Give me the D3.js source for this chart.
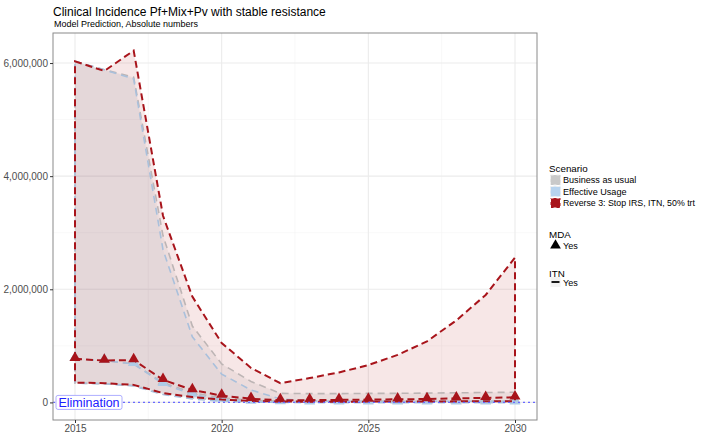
<!DOCTYPE html>
<html>
<head>
<meta charset="utf-8">
<script src="https://cdn.jsdelivr.net/npm/d3@7"></script>
<style>
  body { margin: 0; background: #fff; }
  svg { font-family: "Liberation Sans", Arial, Helvetica, sans-serif; }
</style>
</head>
<body>
<div id="chart"></div>
<script>
const WIDTH = 701;
const HEIGHT = 441;

// data, millions of cases per year
const years = d3.range(2015, 2031);
const bauUpper = [6.03, 5.88, 5.75, 2.95, 1.35, 0.68, 0.37, 0.16, 0.155, 0.155, 0.16, 0.16, 0.165, 0.17, 0.175, 0.18];
const bauMedian = [0.77, 0.74, 0.68, 0.35, 0.17, 0.08, 0.04, 0.02, 0.02, 0.02, 0.02, 0.02, 0.02, 0.02, 0.02, 0.02];
const bauLower = [0.34, 0.33, 0.30, 0.15, 0.08, 0.04, 0.02, 0.01, 0.01, 0.01, 0.01, 0.01, 0.01, 0.01, 0.01, 0.01];
const effUpper = [6.03, 5.88, 5.72, 2.70, 1.16, 0.50, 0.22, 0.06, 0.03, 0.02, 0.02, 0.02, 0.02, 0.02, 0.02, 0.02];
const effMedian = [0.77, 0.74, 0.68, 0.33, 0.14, 0.05, 0.015, 0.005, 0, 0, 0, 0, 0, 0, 0, 0];
const effLower = [0.34, 0.33, 0.29, 0.14, 0.06, 0.02, 0.005, 0, 0, 0, 0, 0, 0, 0, 0, 0];
const revUpper = [6.03, 5.86, 6.22, 3.30, 1.87, 1.05, 0.61, 0.34, 0.43, 0.53, 0.66, 0.84, 1.08, 1.45, 1.90, 2.56];
const revMedian = [0.77, 0.74, 0.75, 0.40, 0.22, 0.12, 0.065, 0.04, 0.04, 0.045, 0.05, 0.055, 0.06, 0.07, 0.08, 0.09];
const revLower = [0.35, 0.34, 0.31, 0.165, 0.095, 0.05, 0.025, 0.015, 0.013, 0.013, 0.014, 0.015, 0.016, 0.018, 0.02, 0.022];

const scenarios = [
  {name: "Business as usual", color: "#BDB5B5", fill: "#8C8C8C", fillOp: 0.10, point: "#B9B9B9", upper: bauUpper, median: bauMedian, lower: bauLower, key: "#C9C9C9"},
  {name: "Effective Usage", color: "#A9C0DC", fill: "#9CB8DA", fillOp: 0.10, point: "#AFCBE6", upper: effUpper, median: effMedian, lower: effLower, key: "#B7D3EE"},
  {name: "Reverse 3: Stop IRS, ITN, 50% trt", color: "#A8141B", fill: "#B22222", fillOp: 0.11, point: "#A8141B", upper: revUpper, median: revMedian, lower: revLower, key: "#A8141B"}
];

const yTicks = [0, 2, 4, 6];
const xTicks = [2015, 2020, 2025, 2030];

const margin = {top: 33, left: 53, right: 164, bottom: 21};
const pw = WIDTH - margin.left - margin.right;
const ph = HEIGHT - margin.top - margin.bottom;

const svg = d3.select("#chart").append("svg")
  .attr("width", WIDTH)
  .attr("height", HEIGHT);

// titles
svg.append("text").attr("x", 53).attr("y", 16)
  .attr("font-size", 12).attr("fill", "#000")
  .text("Clinical Incidence Pf+Mix+Pv with stable resistance");
svg.append("text").attr("x", 54).attr("y", 27)
  .attr("font-size", 9).attr("fill", "#000")
  .text("Model Prediction, Absolute numbers");

const g = svg.append("g").attr("transform", `translate(${margin.left},${margin.top})`);

// ggplot style 5% expansion
const yMin = 0, yMax = 6.22;
const yPad = (yMax - yMin) * 0.05;
const x = d3.scaleLinear().domain([2015 - 0.75, 2030 + 0.75]).range([0, pw]);
const y = d3.scaleLinear().domain([yMin - yPad, yMax + yPad]).range([ph, 0]);

// grid
const grid = g.append("g");
[1, 3, 5].forEach(v => grid.append("line").attr("x1", 0).attr("x2", pw)
  .attr("y1", y(v)).attr("y2", y(v)).attr("stroke", "#F4F4F4").attr("stroke-width", 0.6));
[2017.5, 2022.5, 2027.5].forEach(v => grid.append("line").attr("y1", 0).attr("y2", ph)
  .attr("x1", x(v)).attr("x2", x(v)).attr("stroke", "#F4F4F4").attr("stroke-width", 0.6));
yTicks.forEach(v => grid.append("line").attr("x1", 0).attr("x2", pw)
  .attr("y1", y(v)).attr("y2", y(v)).attr("stroke", "#EBEBEB").attr("stroke-width", 1.1));
xTicks.forEach(v => grid.append("line").attr("y1", 0).attr("y2", ph)
  .attr("x1", x(v)).attr("x2", x(v)).attr("stroke", "#EBEBEB").attr("stroke-width", 1.1));

const area = d3.area()
  .x(d => x(d.year))
  .y0(d => y(d.lo))
  .y1(d => y(d.hi));

const line = d3.line()
  .x(d => x(d.year))
  .y(d => y(d.v));

const tri = d3.symbol().type(d3.symbolTriangle).size(52);

// ribbons + outlines
scenarios.forEach(s => {
  const rows = years.map((yr, i) => ({year: yr, lo: s.lower[i], hi: s.upper[i]}));
  g.append("path").datum(rows)
    .attr("d", area)
    .attr("fill", s.fill).attr("fill-opacity", s.fillOp);
});

scenarios.forEach(s => {
  const rows = years.map((yr, i) => ({year: yr, lo: s.lower[i], hi: s.upper[i]}));
  const red = s.name.startsWith("Reverse");
  g.append("path").datum(rows)
    .attr("d", area)
    .attr("fill", "none")
    .attr("stroke", s.color)
    .attr("stroke-width", red ? 2 : 1.6)
    .attr("stroke-dasharray", red ? "7,4" : "7,5");
  // median line
  const med = years.map((yr, i) => ({year: yr, v: s.median[i]}));
  g.append("path").datum(med)
    .attr("d", line)
    .attr("fill", "none")
    .attr("stroke", s.color)
    .attr("stroke-width", red ? 2 : 1.6)
    .attr("stroke-dasharray", red ? "7,4" : "7,5");
  g.selectAll(null).data(med).enter().append("path")
    .attr("d", tri)
    .attr("transform", d => `translate(${x(d.year)},${y(d.v) - 1})`)
    .attr("fill", s.point);
});

// elimination line
g.append("line")
  .attr("x1", 0).attr("x2", pw)
  .attr("y1", y(0)).attr("y2", y(0))
  .attr("stroke", "#6A6AFF").attr("stroke-width", 1.4)
  .attr("stroke-dasharray", "2,3");

const lab = g.append("g").attr("transform", `translate(${x(2015) - 19},${y(0)})`);
lab.append("rect").attr("x", 0).attr("y", -7).attr("width", 66).attr("height", 14)
  .attr("rx", 2).attr("fill", "#fff").attr("stroke", "#9A9AFF").attr("stroke-width", 0.8);
lab.append("text").attr("x", 33).attr("y", 5).attr("text-anchor", "middle")
  .attr("font-size", 12.5).attr("fill", "#2020FF").text("Elimination");

// panel border
g.append("rect").attr("width", pw).attr("height", ph)
  .attr("fill", "none").attr("stroke", "#8A8A8A").attr("stroke-width", 1);

// axes
const yAxis = g.append("g").call(d3.axisLeft(y).tickValues(yTicks)
  .tickFormat(d => d3.format(",")(d * 1e6)).tickSize(3).tickPadding(2));
const xAxis = g.append("g").attr("transform", `translate(0,${ph})`)
  .call(d3.axisBottom(x).tickValues(xTicks).tickFormat(d3.format("d")).tickSize(3).tickPadding(2));
[yAxis, xAxis].forEach(a => {
  a.select(".domain").remove();
  a.selectAll(".tick line").attr("stroke", "#333");
  a.selectAll(".tick text").attr("fill", "#4D4D4D").attr("font-size", 10)
    .attr("font-family", "Liberation Sans, Arial, sans-serif");
});

// legend
const leg = svg.append("g").attr("transform", "translate(549,0)");
leg.append("text").attr("x", 0).attr("y", 172).attr("font-size", 9.8).text("Scenario");
scenarios.forEach((s, i) => {
  const ky = 175 + i * 11.5;
  leg.append("rect").attr("x", 1.5).attr("y", ky).attr("width", 10).attr("height", 10)
    .attr("fill", s.key).attr("stroke", i === 2 ? "#fff" : "#eee").attr("stroke-width", 1)
    .attr("stroke-dasharray", "3,3");
  const t = leg.append("text").attr("x", 14).attr("y", ky + 8.3).attr("font-size", 9.1).text(s.name);
  if (i === 2) t.attr("textLength", 132).attr("lengthAdjust", "spacingAndGlyphs");
});

leg.append("text").attr("x", 0).attr("y", 238).attr("font-size", 9.8).text("MDA");
leg.append("path").attr("d", d3.symbol().type(d3.symbolTriangle).size(50)())
  .attr("transform", "translate(6.5,245.5)").attr("fill", "#000");
leg.append("text").attr("x", 14).attr("y", 249).attr("font-size", 9.1).text("Yes");

leg.append("text").attr("x", 0).attr("y", 277).attr("font-size", 9.8).text("ITN");
leg.append("rect").attr("x", 1.5).attr("y", 277).attr("width", 10).attr("height", 10).attr("fill", "#F2F2F2");
leg.append("line").attr("x1", 2.5).attr("x2", 10.5).attr("y1", 282).attr("y2", 282)
  .attr("stroke", "#000").attr("stroke-width", 1.8);
leg.append("text").attr("x", 14).attr("y", 286).attr("font-size", 9.1).text("Yes");
</script>
</body>
</html>
